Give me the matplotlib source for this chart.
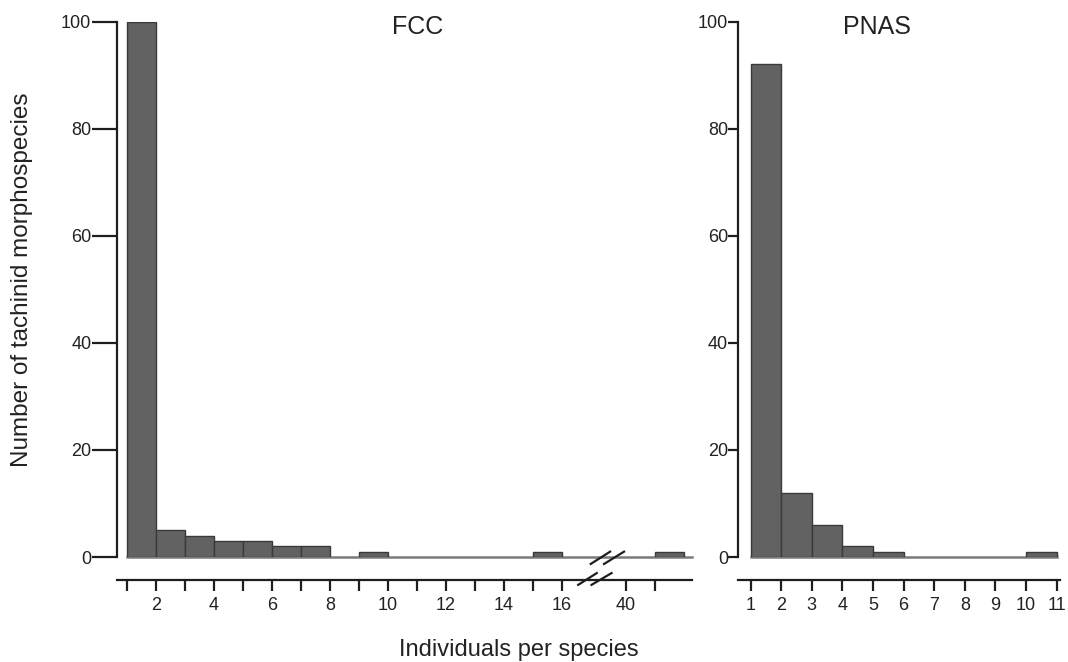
import matplotlib
matplotlib.use("Agg")
import matplotlib.pyplot as plt
from matplotlib.transforms import blended_transform_factory

plt.rcParams['font.family'] = ['Liberation Sans', 'DejaVu Sans']

# ---------------- data ----------------
fcc_bin_start = [1, 2, 3, 4, 5, 6, 7, 8, 9, 10, 11, 12, 13, 14, 15, 16, 41]
fcc_counts = [100, 5, 4, 3, 3, 2, 2, 0, 1, 0, 0, 0, 0, 0, 1, 0, 1]
fcc_tick_values = [1, 2, 3, 4, 5, 6, 7, 8, 9, 10, 11, 12, 13, 14, 15, 16, 40, 41]
fcc_tick_labels = ['', '2', '', '4', '', '6', '', '8', '', '10', '', '12', '', '14', '', '16', '40', '']

pnas_bin_start = [1, 2, 3, 4, 5, 6, 7, 8, 9, 10]
pnas_counts = [92, 12, 6, 2, 1, 0, 0, 0, 0, 1]
pnas_tick_values = [1, 2, 3, 4, 5, 6, 7, 8, 9, 10, 11]
pnas_tick_labels = ['1', '2', '3', '4', '5', '6', '7', '8', '9', '10', '11']

y_ticks = [0, 20, 40, 60, 80, 100]
titles = ['FCC', 'PNAS']
y_label = 'Number of tachinid morphospecies'
x_label = 'Individuals per species'


def fcc_pos(v):
    # broken axis: values after the break are shifted next to 16
    return v if v <= 17 else v - 40 + 18.2


BAR_FC = '#626262'
BAR_EC = '#3a3a3a'
AX_C = '#1e1e1e'
TXT_C = '#222222'

fig = plt.figure(figsize=(10.68, 6.62), dpi=100)
axL = fig.add_axes([0.1096, 0.1586, 0.5388, 0.8089])
axR = fig.add_axes([0.6913, 0.1586, 0.3010, 0.8089])


def style(ax, ylen):
    for s in ['top', 'right']:
        ax.spines[s].set_visible(False)
    for s in ['left', 'bottom']:
        ax.spines[s].set_linewidth(1.6)
        ax.spines[s].set_color(AX_C)
    ax.spines['bottom'].set_position(('outward', 16.6))
    ax.set_ylim(0, 100)
    ax.set_yticks(y_ticks)
    ax.tick_params(axis='y', direction='out', length=ylen, width=1.6, color=AX_C,
                   labelsize=13, pad=0.5, labelcolor=TXT_C)
    ax.tick_params(axis='x', direction='out', length=8, width=1.6, color=AX_C,
                   labelsize=13, pad=4.5, labelcolor=TXT_C)


# ---- FCC panel ----
pos = [fcc_pos(v) for v in fcc_bin_start]
xs = [p for p, c in zip(pos, fcc_counts) if c > 0]
hs = [c for c in fcc_counts if c > 0]
axL.plot([pos[0], 20.5], [0, 0], color='#7a7a7a', lw=1.8, zorder=1, clip_on=False)
axL.bar(xs, hs, width=1, align='edge', color=BAR_FC, edgecolor=BAR_EC, lw=1.0, zorder=2)
axL.set_xlim(0.66, 20.5)
axL.set_xticks([fcc_pos(v) for v in fcc_tick_values])
axL.set_xticklabels(fcc_tick_labels)
style(axL, 18)

# break marks
tr = blended_transform_factory(axL.transData, axL.transAxes)
for x0, x1 in [(16.99, 17.66), (17.45, 18.14)]:
    axL.plot([x0, x1], [-0.013, 0.010], color=AX_C, lw=1.6, transform=tr,
             clip_on=False, zorder=3)
for x0, x1 in [(16.56, 17.2), (17.02, 17.71)]:
    axL.plot([x0, x1], [-0.052, -0.030], color=AX_C, lw=1.6, transform=tr,
             clip_on=False, zorder=3)

# ---- PNAS panel ----
xs = [p for p, c in zip(pnas_bin_start, pnas_counts) if c > 0]
hs = [c for c in pnas_counts if c > 0]
axR.plot([pnas_bin_start[0], pnas_bin_start[-1] + 1], [0, 0], color='#7a7a7a', lw=1.8,
         zorder=1, clip_on=False)
axR.bar(xs, hs, width=1, align='edge', color=BAR_FC, edgecolor=BAR_EC, lw=1.0, zorder=2)
axR.set_xlim(0.6, 11.1)
axR.set_xticks(pnas_tick_values)
axR.set_xticklabels(pnas_tick_labels)
style(axR, 7)

# ---- texts ----
fig.text(0.391, 0.9486, titles[0], ha='center', va='baseline', fontsize=18, color=TXT_C)
fig.text(0.821, 0.9486, titles[1], ha='center', va='baseline', fontsize=18, color=TXT_C)
fig.text(0.0206, 0.577, y_label, ha='center', va='center', rotation=90, fontsize=17.5,
         color=TXT_C)
fig.text(0.486, 0.009, x_label, ha='center', va='baseline', fontsize=17, color=TXT_C)

fig.savefig('out.png', dpi=100)
